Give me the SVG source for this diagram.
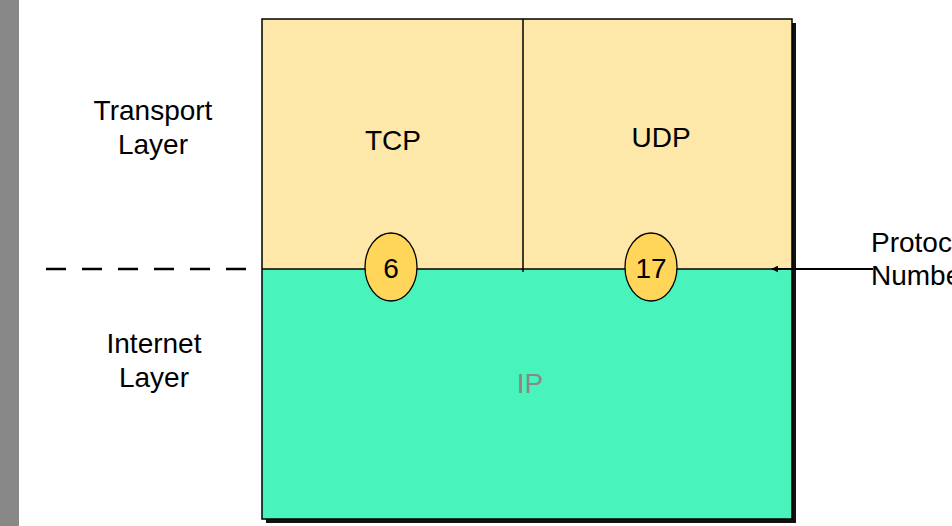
<svg xmlns="http://www.w3.org/2000/svg" width="952" height="526" viewBox="0 0 952 526">
<defs>
<style>
text{font-family:"Liberation Sans",Arial,sans-serif;font-size:28px;fill:#000}
.c{text-anchor:middle}
.ln{stroke:#000;stroke-width:1.5;fill:none}
.badge{fill:#FFD55A;stroke:#000;stroke-width:1.3}
</style>
<marker id="ah" viewBox="0 0 10 10" refX="9" refY="5" markerWidth="7" markerHeight="7" orient="auto" markerUnits="userSpaceOnUse">
<path d="M0,0 L10,5 L0,10 z" fill="#000"/>
</marker>
</defs>
<rect x="0" y="0" width="952" height="526" fill="#fff"/>
<rect x="0" y="0" width="19" height="526" fill="#888"/>
<g id="frame">
<rect x="266" y="23" width="530" height="500" fill="#111"/>
<rect x="262" y="19" width="530" height="250" fill="#FDE7A9"/>
<rect x="262" y="269" width="530" height="250" fill="#48F3BC"/>
<rect x="262" y="19" width="530" height="500" class="ln"/>
</g>
<g id="tcp"><text class="c" x="393" y="150">TCP</text></g>
<g id="udp"><text class="c" x="661" y="147">UDP</text></g>
<g id="ip"><text class="c" x="530" y="393" style="fill:#888">IP</text></g>
<g id="labels">
<text class="c" x="153" y="120">Transport</text>
<text class="c" x="153" y="154">Layer</text>
<text class="c" x="154" y="353">Internet</text>
<text class="c" x="154" y="387">Layer</text>
<text x="871" y="252">Protocol</text>
<text x="871" y="285">Number</text>
</g>
<g id="connectors">
<line x1="523" y1="19" x2="523" y2="272" class="ln"/>
<line x1="262" y1="269" x2="792" y2="269" class="ln"/>
<line x1="46" y1="269" x2="248" y2="269" stroke="#000" stroke-width="2.5" stroke-dasharray="20,16"/>
<line x1="873" y1="269" x2="772" y2="269" stroke="#000" stroke-width="2" marker-end="url(#ah)"/>
</g>
<g id="proto6">
<ellipse cx="391" cy="267" rx="26" ry="34" class="badge"/>
<text class="c" x="391" y="278">6</text>
</g>
<g id="proto17">
<ellipse cx="651" cy="267" rx="26" ry="34" class="badge"/>
<text class="c" x="651" y="278">17</text>
</g>
</svg>
